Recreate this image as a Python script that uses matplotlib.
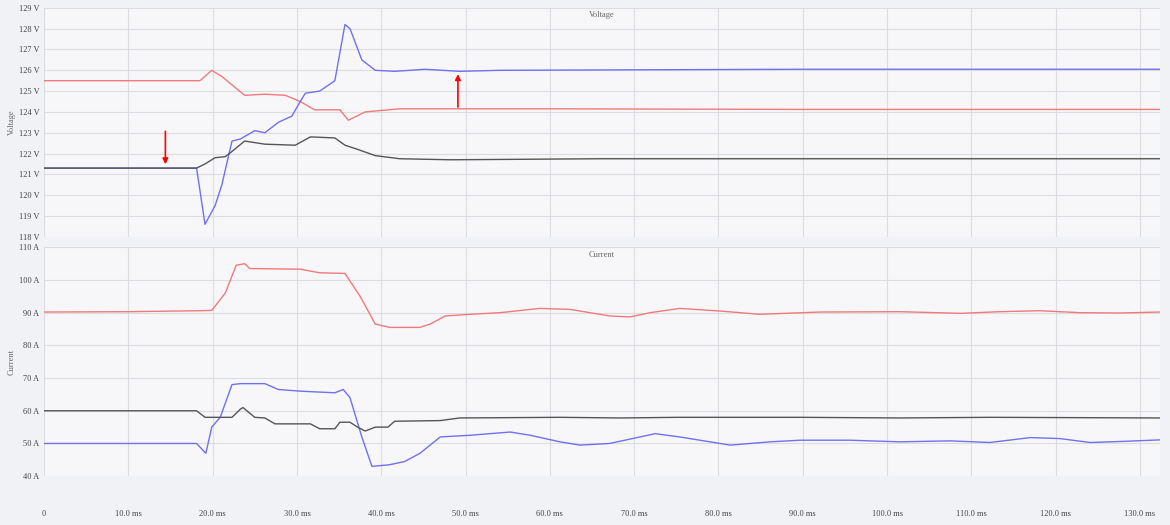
import matplotlib.pyplot as plt
import numpy as np

plt.rcParams['font.family'] = ['Liberation Serif', 'DejaVu Serif']

# voltage traces (ms, V)
v_red_t = [0, 18.5, 19.9, 21.1, 23.8, 26.2, 28.6, 30.4, 32.1, 35.1, 36.1, 38.1, 42.2, 60, 90, 132.4]
v_red = [125.5, 125.5, 126.0, 125.7, 124.8, 124.85, 124.8, 124.5, 124.1, 124.1, 123.6, 124.0, 124.15, 124.15, 124.12, 124.12]
v_blue_t = [0, 18.1, 19.1, 20.3, 21.1, 22.3, 23.3, 25.0, 26.2, 27.8, 29.4, 30.4, 31.0, 32.7, 34.5, 35.7, 36.3, 37.7, 39.3, 41.6, 45.2, 49.3, 54.1, 89.7, 132.4]
v_blue = [121.3, 121.3, 118.6, 119.5, 120.5, 122.6, 122.7, 123.1, 123.0, 123.5, 123.8, 124.5, 124.9, 125.0, 125.5, 128.2, 128.0, 126.5, 126.0, 125.95, 126.05, 125.95, 126.0, 126.05, 126.05]
v_blk_t = [0, 18.1, 19.1, 20.3, 21.5, 22.3, 23.8, 26.2, 29.8, 31.6, 34.5, 35.7, 37.2, 39.3, 42.2, 48.2, 66.0, 132.4]
v_blk = [121.3, 121.3, 121.5, 121.8, 121.85, 122.1, 122.6, 122.45, 122.4, 122.8, 122.75, 122.4, 122.2, 121.9, 121.75, 121.7, 121.75, 121.75]

# current traces (ms, A)
i_red_t = [0, 10, 18.5, 19.9, 21.5, 22.8, 23.8, 24.4, 30.4, 32.7, 35.7, 37.5, 39.3, 41.0, 44.6, 45.8, 47.6, 50.5, 54.1, 58.8, 62.4, 67.1, 69.5, 71.9, 75.4, 80.2, 84.9, 92.1, 101.5, 108.7, 113.4, 118.1, 122.9, 127.6, 132.4]
i_red = [90.2, 90.3, 90.6, 90.7, 96, 104.5, 105, 103.5, 103.3, 102.2, 102, 95, 86.5, 85.5, 85.5, 86.5, 89, 89.5, 90, 91.3, 91, 89, 88.7, 90, 91.3, 90.5, 89.5, 90.2, 90.3, 89.8, 90.3, 90.6, 90, 89.9, 90.2]
i_blue_t = [0, 18.1, 19.2, 19.9, 20.9, 22.3, 23.3, 26.2, 27.8, 30.4, 34.5, 35.5, 36.3, 37.7, 38.9, 41.0, 42.8, 44.6, 47.0, 50.5, 55.3, 57.7, 61.2, 63.6, 67.1, 70.7, 72.5, 75.4, 79.0, 81.4, 86.1, 89.7, 95.6, 101.5, 107.5, 112.2, 117.0, 120.5, 124.1, 127.6, 132.4]
i_blue = [50, 50, 47, 55, 58, 68, 68.3, 68.3, 66.5, 66, 65.5, 66.5, 64, 52, 43, 43.5, 44.5, 47, 52, 52.5, 53.5, 52.5, 50.5, 49.5, 50, 52, 53, 52, 50.5, 49.5, 50.5, 51, 51, 50.5, 50.8, 50.3, 51.8, 51.5, 50.3, 50.6, 51.1]
i_blk_t = [0, 18.1, 19.1, 22.3, 23.3, 23.6, 25.0, 26.2, 27.4, 31.6, 32.7, 34.5, 35.1, 36.3, 37.2, 38.1, 39.3, 40.8, 41.6, 47.0, 49.3, 61.2, 68.3, 75.4, 89.7, 101.5, 112.2, 132.4]
i_blk = [60, 60, 58, 58, 60.5, 61, 58, 57.8, 56, 56, 54.5, 54.5, 56.5, 56.5, 55, 53.8, 55, 55, 56.8, 57, 57.8, 58, 57.8, 58, 58, 57.8, 58, 57.8]

xticks = np.arange(0, 131, 10)
xlabels = ['0'] + [f'{t:.1f} ms' for t in xticks[1:]]

RED, BLUE, BLK = '#f07a7a', '#7070f0', '#555555'
GRID = '#dcdde3'

fig = plt.figure(figsize=(11.7, 5.25), dpi=100, facecolor='#f1f2f5')
ax1 = fig.add_axes([0.0376, 0.549, 0.954, 0.436])
ax2 = fig.add_axes([0.0376, 0.093, 0.954, 0.436])

for ax in (ax1, ax2):
    ax.set_facecolor('#f7f7f9')
    ax.set_xlim(0, 132.4)
    ax.set_xticks(xticks)
    ax.grid(True, color=GRID, lw=0.8)
    ax.tick_params(labelsize=6, colors='#444444', length=0)
    for s in ax.spines.values():
        s.set_visible(False)

ax1.plot(v_red_t, v_red, color=RED, lw=1)
ax1.plot(v_blue_t, v_blue, color=BLUE, lw=1)
ax1.plot(v_blk_t, v_blk, color=BLK, lw=1)
ax1.set_ylim(118, 129)
ax1.set_yticks(range(118, 130))
ax1.set_yticklabels([f'{v} V' for v in range(118, 130)])
ax1.set_xticklabels([])
ax1.text(0.5, 0.985, 'Voltage', transform=ax1.transAxes, ha='center', va='top',
         fontsize=6, color='#666666')
ax1.set_ylabel('Voltage', fontsize=6, color='#666666', labelpad=2)
ax1.annotate('', xy=(14.4, 121.35), xytext=(14.4, 123.2),
             arrowprops=dict(arrowstyle='-|>', color='red', lw=1.2, mutation_scale=8))
ax1.annotate('', xy=(49.1, 125.95), xytext=(49.1, 124.1),
             arrowprops=dict(arrowstyle='-|>', color='red', lw=1.2, mutation_scale=8))

ax2.plot(i_red_t, i_red, color=RED, lw=1)
ax2.plot(i_blue_t, i_blue, color=BLUE, lw=1)
ax2.plot(i_blk_t, i_blk, color=BLK, lw=1)
ax2.set_ylim(40, 110)
ax2.set_yticks(range(40, 111, 10))
ax2.set_yticklabels([f'{v} A' for v in range(40, 111, 10)])
ax2.set_xticklabels(xlabels)
ax2.tick_params(axis='x', pad=24)
ax2.text(0.5, 0.985, 'Current', transform=ax2.transAxes, ha='center', va='top',
         fontsize=6, color='#666666')
ax2.set_ylabel('Current', fontsize=6, color='#666666', labelpad=2)

fig.savefig('out.png', dpi=100, facecolor=fig.get_facecolor())
